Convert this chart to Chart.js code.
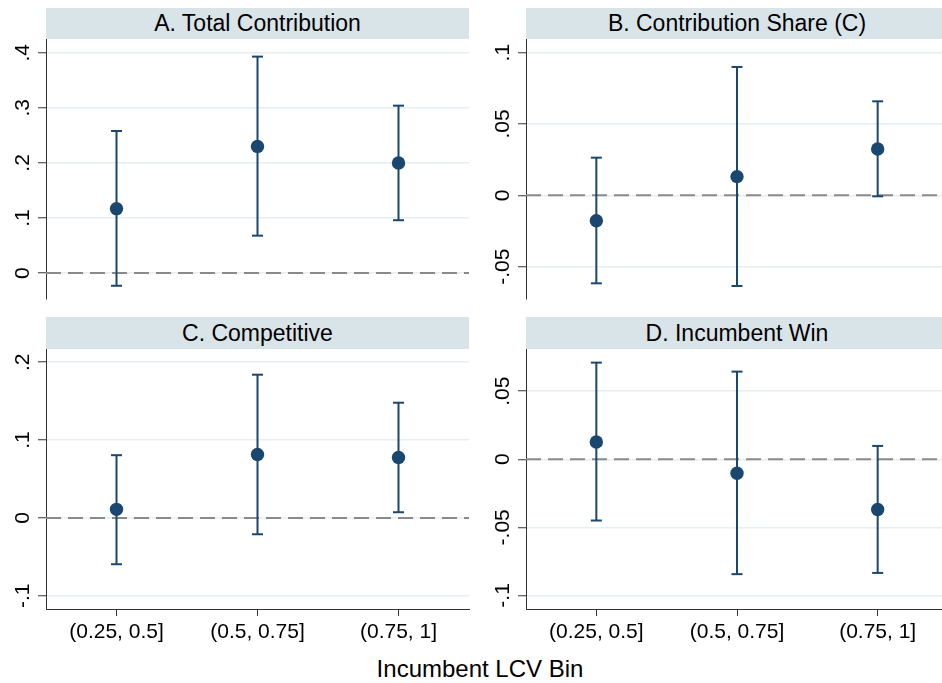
<!DOCTYPE html>
<html>
<head>
<meta charset="utf-8">
<script src="https://cdn.jsdelivr.net/npm/chart.js@4.4.0/dist/chart.umd.min.js"></script>
<style>
  body { margin: 0; width: 942px; height: 683px; overflow: hidden; background: #fff; position: relative;
         font-family: "Liberation Sans", Arial, sans-serif; }
  canvas { position: absolute; }
  .strip { position: absolute; background: #d9e4e9; color: #000; font-size: 23px; text-align: center;
           white-space: nowrap; }
  #xtitle { position: absolute; left: 0; width: 960px; top: 657px; height: 24px; line-height: 24px;
            font-size: 24px; text-align: center; color: #000; }
</style>
</head>
<body>
<div class="strip" style="left:46px;top:8px;width:423px;height:31px;line-height:31px">A. Total Contribution</div>
<div class="strip" style="left:526px;top:8px;width:422px;height:31px;line-height:31px">B. Contribution Share (C)</div>
<div class="strip" style="left:46px;top:317px;width:423px;height:32px;line-height:32px">C. Competitive</div>
<div class="strip" style="left:526px;top:317px;width:422px;height:32px;line-height:32px">D. Incumbent Win</div>

<canvas id="pA" width="471" height="262" style="left:0;top:39px"></canvas>
<canvas id="pB" width="480" height="262" style="left:471px;top:39px"></canvas>
<canvas id="pC" width="471" height="300" style="left:0;top:349px"></canvas>
<canvas id="pD" width="480" height="300" style="left:471px;top:349px"></canvas>

<div id="xtitle">Incumbent LCV Bin</div>

<script>
const categories = ['(0.25, 0.5]', '(0.5, 0.75]', '(0.75, 1]'];

// A. Total Contribution
const totalCoef = [0.117, 0.230, 0.200];
const totalLo = [-0.023, 0.068, 0.096];
const totalHi = [0.258, 0.393, 0.304];
const totalTicks = [0, 0.1, 0.2, 0.3, 0.4];
const totalTickLabels = ['0', '.1', '.2', '.3', '.4'];

// B. Contribution Share (C)
const shareCoef = [-0.0178, 0.0131, 0.0325];
const shareLo = [-0.0617, -0.0636, -0.0007];
const shareHi = [0.0264, 0.0900, 0.0659];
const shareTicks = [-0.05, 0, 0.05, 0.1];
const shareTickLabels = ['-.05', '0', '.05', '.1'];

// C. Competitive
const compCoef = [0.011, 0.0815, 0.0776];
const compLo = [-0.0595, -0.021, 0.0073];
const compHi = [0.0806, 0.184, 0.148];
const compTicks = [-0.1, 0, 0.1, 0.2];
const compTickLabels = ['-.1', '0', '.1', '.2'];

// D. Incumbent Win
const winCoef = [0.0127, -0.0103, -0.0369];
const winLo = [-0.045, -0.0844, -0.0835];
const winHi = [0.071, 0.0644, 0.0098];
const winTicks = [-0.1, -0.05, 0, 0.05];
const winTickLabels = ['-.1', '-.05', '0', '.05'];

const navy = '#1a476f';
const axisColor = '#333';
const fontFamily = '"Liberation Sans", Arial, sans-serif';

// stata style vertical y labels
const yLabelsPlugin = {
    id: 'yLabels',
    afterDraw(chart, args, opts) {
        const s = chart.scales.y;
        const ctx = chart.ctx;
        ctx.save();
        ctx.font = '21px ' + fontFamily;
        ctx.fillStyle = '#000';
        ctx.textAlign = 'center';
        ctx.textBaseline = 'alphabetic';
        opts.values.forEach((v, i) => {
            ctx.save();
            ctx.translate(s.right - 17.5, s.getPixelForValue(v));
            ctx.rotate(-Math.PI / 2);
            ctx.fillText(opts.labels[i], 0, 0);
            ctx.restore();
        });
        ctx.restore();
    }
};

function makePanel(id, p) {
    const ciData = [];
    p.lo.forEach((lo, i) => {
        ciData.push({ x: i + 1, y: lo }, { x: i + 1, y: p.hi[i] }, { x: i + 1, y: null });
    });

    new Chart(document.getElementById(id), {
        type: 'line',
        data: {
            datasets: [
                {
                    data: [{ x: 0.5, y: 0 }, { x: 3.5, y: 0 }],
                    borderColor: '#8a8a8a',
                    borderWidth: 2,
                    borderDash: [15, 7],
                    pointRadius: 0,
                    order: 3,
                },
                {
                    data: ciData,
                    borderColor: navy,
                    borderWidth: 2,
                    spanGaps: false,
                    pointStyle: 'line',
                    pointRadius: 5.5,
                    pointBorderWidth: 2,
                    pointBorderColor: navy,
                    order: 2,
                },
                {
                    data: p.coef.map((c, i) => ({ x: i + 1, y: c })),
                    showLine: false,
                    pointRadius: 6.7,
                    pointBackgroundColor: navy,
                    pointBorderWidth: 0,
                    order: 1,
                },
            ],
        },
        options: {
            responsive: false,
            animation: false,
            devicePixelRatio: 1,
            layout: {
                autoPadding: false,
                padding: { left: 0, right: p.padRight, top: 0, bottom: p.showX ? 0 : 2 },
            },
            plugins: {
                legend: { display: false },
                tooltip: { enabled: false },
                yLabels: { values: p.ticks, labels: p.tickLabels },
            },
            scales: {
                x: {
                    type: 'linear',
                    min: 0.5,
                    max: 3.5,
                    display: p.showX,
                    afterBuildTicks: s => { s.ticks = [1, 2, 3].map(v => ({ value: v })); },
                    afterFit: s => { if (p.showX) s.height = 40; },
                    ticks: {
                        callback: v => categories[v - 1],
                        font: { family: fontFamily, size: 21 },
                        color: '#000',
                        padding: 4,
                        maxRotation: 0,
                        autoSkip: false,
                    },
                    grid: { drawOnChartArea: false, tickLength: 7, tickColor: axisColor, tickWidth: 1 },
                    border: { color: axisColor, width: 1 },
                },
                y: {
                    min: p.min,
                    max: p.max,
                    afterBuildTicks: s => { s.ticks = p.ticks.map(v => ({ value: v })); },
                    afterFit: s => { s.width = p.yWidth; },
                    ticks: { display: false },
                    grid: { color: '#e6eef1', lineWidth: 1.5, tickLength: 8, tickColor: axisColor, tickWidth: 1 },
                    border: { color: axisColor, width: 1 },
                },
            },
        },
        plugins: [yLabelsPlugin],
    });
}

makePanel('pA', { coef: totalCoef, lo: totalLo, hi: totalHi, ticks: totalTicks, tickLabels: totalTickLabels,
    min: -0.047, max: 0.425, yWidth: 46, padRight: 2, showX: false });
makePanel('pB', { coef: shareCoef, lo: shareLo, hi: shareHi, ticks: shareTicks, tickLabels: shareTickLabels,
    min: -0.0727, max: 0.1096, yWidth: 55, padRight: 3, showX: false });
makePanel('pC', { coef: compCoef, lo: compLo, hi: compHi, ticks: compTicks, tickLabels: compTickLabels,
    min: -0.117, max: 0.217, yWidth: 46, padRight: 2, showX: true });
makePanel('pD', { coef: winCoef, lo: winLo, hi: winHi, ticks: winTicks, tickLabels: winTickLabels,
    min: -0.110, max: 0.081, yWidth: 55, padRight: 3, showX: true });
</script>
</body>
</html>
